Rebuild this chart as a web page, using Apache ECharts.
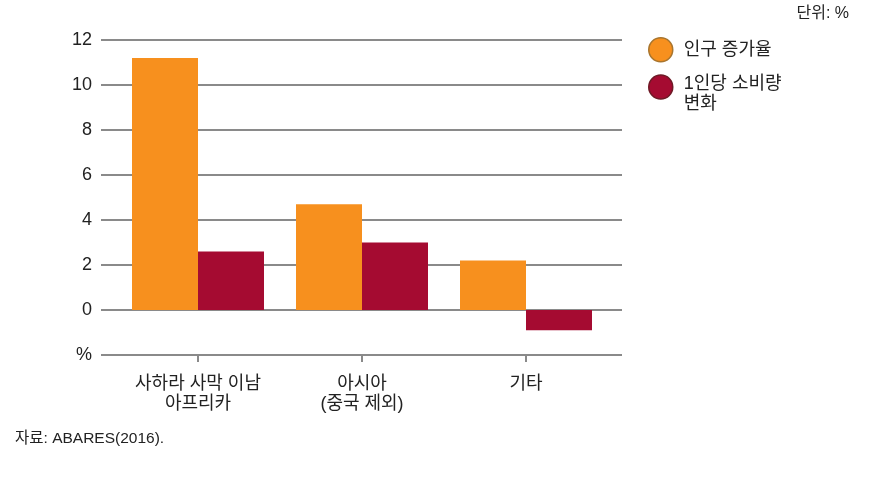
<!DOCTYPE html>
<html><head><meta charset="utf-8">
<script src="https://cdn.jsdelivr.net/npm/echarts@6/dist/echarts.min.js"></script>
<style>html,body{margin:0;padding:0;background:#fff}#c{width:892px;height:492px}</style>
</head><body><div id="c"></div>
<script>
const categories = ['사하라 사막 이남\n아프리카', '아시아\n(중국 제외)', '기타'];
const seriesNames = ['인구 증가율', '1인당 소비량\n변화'];
const popGrowth = [11.2, 4.7, 2.2];
const perCapitaChange = [2.6, 3.0, -0.9];
const yMin = -2, yMax = 12, yStep = 2;
const yLabelForMin = '%';

const FONT = "'Liberation Sans', 'Noto Sans CJK KR', sans-serif";
const ORANGE = '#F7901E', RED = '#A50B31';
const chart = echarts.init(document.getElementById('c'), null, {renderer: 'canvas'});
chart.setOption({
  animation: false,
  textStyle: {fontFamily: FONT, color: '#222'},
  title: [
    {text: '단위: %', right: 38, top: 1, padding: 5, textStyle: {fontFamily: FONT, fontSize: 16, fontWeight: 'normal', color: '#222'}},
    {text: '자료: ABARES(2016).', left: 10, top: 426, padding: 5, textStyle: {fontFamily: FONT, fontSize: 15.5, fontWeight: 'normal', color: '#222'}}
  ],
  legend: [
    {data: [{name: seriesNames[0], itemStyle: {borderColor: '#A8752E', borderWidth: 1.5}}],
     left: 648, top: 37, padding: 0, icon: 'circle', itemWidth: 24, itemHeight: 24,
     textStyle: {fontFamily: FONT, fontSize: 18, color: '#222', lineHeight: 20, padding: [0, 0, 0, 6]}},
    {data: [{name: seriesNames[1], itemStyle: {borderColor: '#6E1A26', borderWidth: 1.5}}],
     left: 648, top: 62, padding: 0, icon: 'circle', itemWidth: 24, itemHeight: 24,
     formatter: function (name) {
       return '{s| }\n' + name.split('\n').map(l => '{a|' + l + '}').join('\n');
     },
     textStyle: {fontFamily: FONT, fontSize: 18, color: '#222', padding: [0, 0, 0, 6],
       rich: {s: {fontSize: 10, lineHeight: 14}, a: {fontFamily: FONT, fontSize: 18, lineHeight: 20, color: '#222'}}}}
  ],
  grid: [
    {left: 116, right: 284, top: 40, bottom: 137},
    {left: 101, right: 270, top: 40, bottom: 137}
  ],
  xAxis: [
    {type: 'category', gridIndex: 0, data: categories,
     axisLine: {show: false, onZero: false},
     axisTick: {show: true, alignWithLabel: true, length: 7, lineStyle: {color: '#8a8a8a', width: 2}},
     axisLabel: {fontFamily: FONT, fontSize: 18, color: '#222', margin: 19, lineHeight: 20}},
    {type: 'value', gridIndex: 1, show: false, min: 0, max: 1}
  ],
  yAxis: [
    {type: 'value', gridIndex: 0, min: yMin, max: yMax, interval: yStep, show: false},
    {type: 'value', gridIndex: 1, min: yMin, max: yMax, interval: yStep,
     axisLine: {show: false}, axisTick: {show: false},
     splitLine: {show: true, lineStyle: {color: '#8a8a8a', width: 2}},
     axisLabel: {fontFamily: FONT, fontSize: 18, color: '#222', margin: 9,
       formatter: v => (v === yMin ? yLabelForMin : String(v))}}
  ],
  series: [
    {name: seriesNames[0], type: 'bar', xAxisIndex: 0, yAxisIndex: 0, data: popGrowth,
     barWidth: 66, barGap: '0%', itemStyle: {color: ORANGE}},
    {name: seriesNames[1], type: 'bar', xAxisIndex: 0, yAxisIndex: 0, data: perCapitaChange,
     barWidth: 66, barGap: '0%', itemStyle: {color: RED}}
  ]
});
</script></body></html>
